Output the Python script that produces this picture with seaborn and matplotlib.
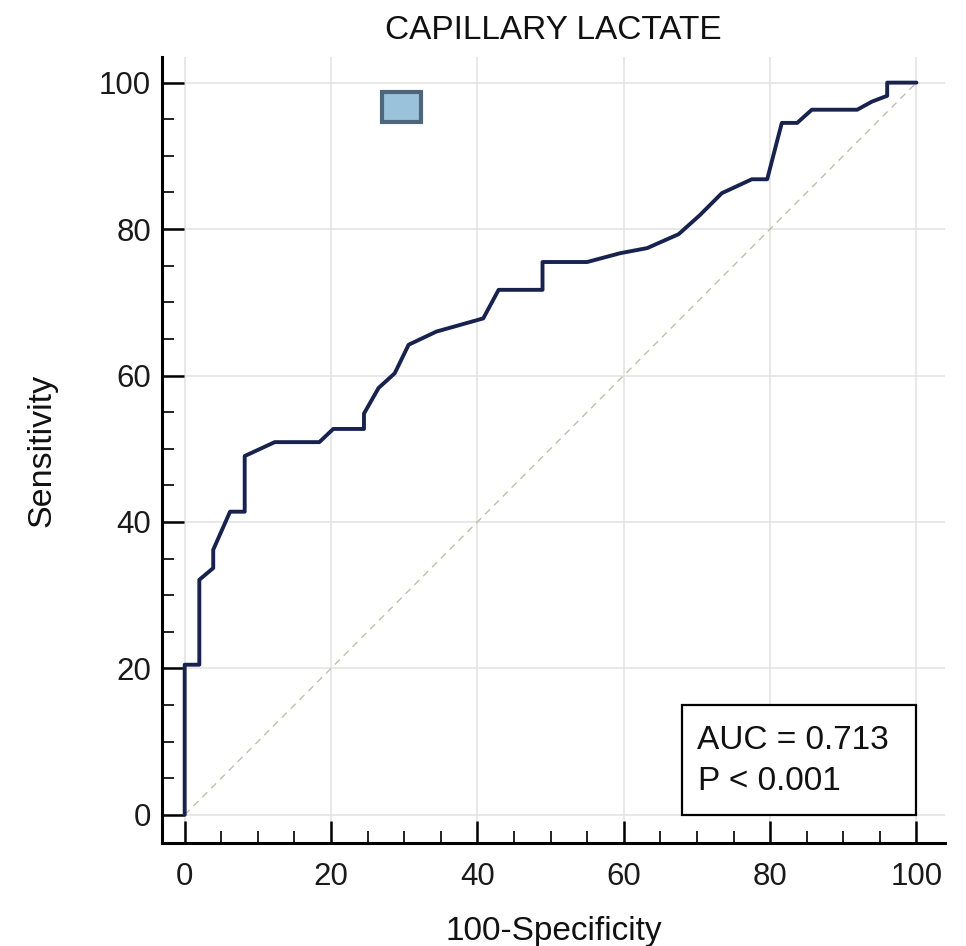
import matplotlib
matplotlib.use("Agg")
import matplotlib.pyplot as plt
import seaborn as sns
import pandas as pd
from matplotlib.patches import Rectangle
from matplotlib.ticker import MultipleLocator

# ROC curve points (100-Specificity, Sensitivity)
fpr = [0.0, 0.0, 2.0, 2.0, 3.9, 3.9, 6.2, 8.2, 8.2, 12.3, 18.4, 20.3, 24.5, 24.5,
       26.5, 28.7, 30.6, 34.4, 40.8, 42.9, 48.9, 48.9, 55.0, 59.5, 63.2, 67.5,
       70.4, 73.4, 77.5, 79.6, 81.6, 83.7, 85.7, 91.9, 93.9, 96.0, 96.0, 100.0]
tpr = [0.0, 20.5, 20.5, 32.1, 33.7, 36.2, 41.4, 41.4, 49.0, 50.9, 50.9, 52.7, 52.7, 54.8,
       58.3, 60.3, 64.2, 66.0, 67.8, 71.7, 71.7, 75.5, 75.5, 76.7, 77.4, 79.3,
       81.9, 84.9, 86.8, 86.8, 94.5, 94.5, 96.3, 96.3, 97.4, 98.2, 100.0, 100.0]
ref_x = [0, 100]
ref_y = [0, 100]
ticks = [0, 20, 40, 60, 80, 100]
title = "CAPILLARY LACTATE"
xlabel = "100-Specificity"
ylabel = "Sensitivity"
auc_text = "AUC = 0.713"
p_text = "P < 0.001"

sns.set_style("white")
plt.rcParams['font.family'] = ['Liberation Sans', 'DejaVu Sans']

fig = plt.figure(figsize=(9.66, 9.46), dpi=100)
ax = fig.add_axes([162/966, 1-843/946, (945-162)/966, (843-57)/946])

df = pd.DataFrame({"x": fpr, "y": tpr})
ref = pd.DataFrame({"x": ref_x, "y": ref_y})

ax.grid(True, which='major', color='#e2e2e2', linewidth=1.1, zorder=0)
ax.set_axisbelow(True)

sns.lineplot(data=ref, x="x", y="y", ax=ax, color='#c9bba6', linewidth=1.0,
             linestyle=(0, (5, 4)), sort=False, estimator=None, zorder=2)
sns.lineplot(data=df, x="x", y="y", ax=ax, color='#18224f', linewidth=2.8,
             sort=False, estimator=None, zorder=3)

ax.set_xlim(-3.1, 103.9)
ax.set_ylim(-3.85, 103.5)
ax.set_xticks(ticks)
ax.set_yticks(ticks)
ax.xaxis.set_minor_locator(MultipleLocator(5))
ax.yaxis.set_minor_locator(MultipleLocator(5))

for s in ['top', 'right']:
    ax.spines[s].set_visible(False)
for s in ['left', 'bottom']:
    ax.spines[s].set_color('black')
    ax.spines[s].set_linewidth(2.2)

ax.tick_params(which='major', direction='in', length=16, width=1.8, color='black',
               labelsize=22.5, labelcolor='#1a1a1a')
ax.tick_params(which='minor', direction='in', length=8.5, width=1.4, color='#222222')
ax.tick_params(axis='x', which='major', pad=14)
ax.tick_params(axis='y', which='major', pad=8)
ax.tick_params(which='both', top=False, right=False, bottom=True, left=True)

ax.set_xlabel(xlabel, fontsize=24, labelpad=17, color='#111111')
ax.set_ylabel(ylabel, fontsize=24.5, labelpad=30, color='#111111')
ax.set_title(title, fontsize=24, pad=13, color='#111111')

# legend marker square
ax.add_patch(Rectangle((27.0, 94.6), 5.3, 4.1, facecolor='#9bc2db', edgecolor='#4c667b',
                       linewidth=3, zorder=4))

# AUC box
ax.add_patch(Rectangle((67.9, 0.0), 32.1, 15.0, facecolor='white', edgecolor='black',
                       linewidth=1.6, zorder=5))
ax.text(70.0, 10.2, auc_text, fontsize=24, va='center', ha='left', zorder=6, color='#111111')
ax.text(70.2, 4.5, p_text, fontsize=24, va='center', ha='left', zorder=6, color='#111111')

fig.savefig("out.png", dpi=100, facecolor='white')
